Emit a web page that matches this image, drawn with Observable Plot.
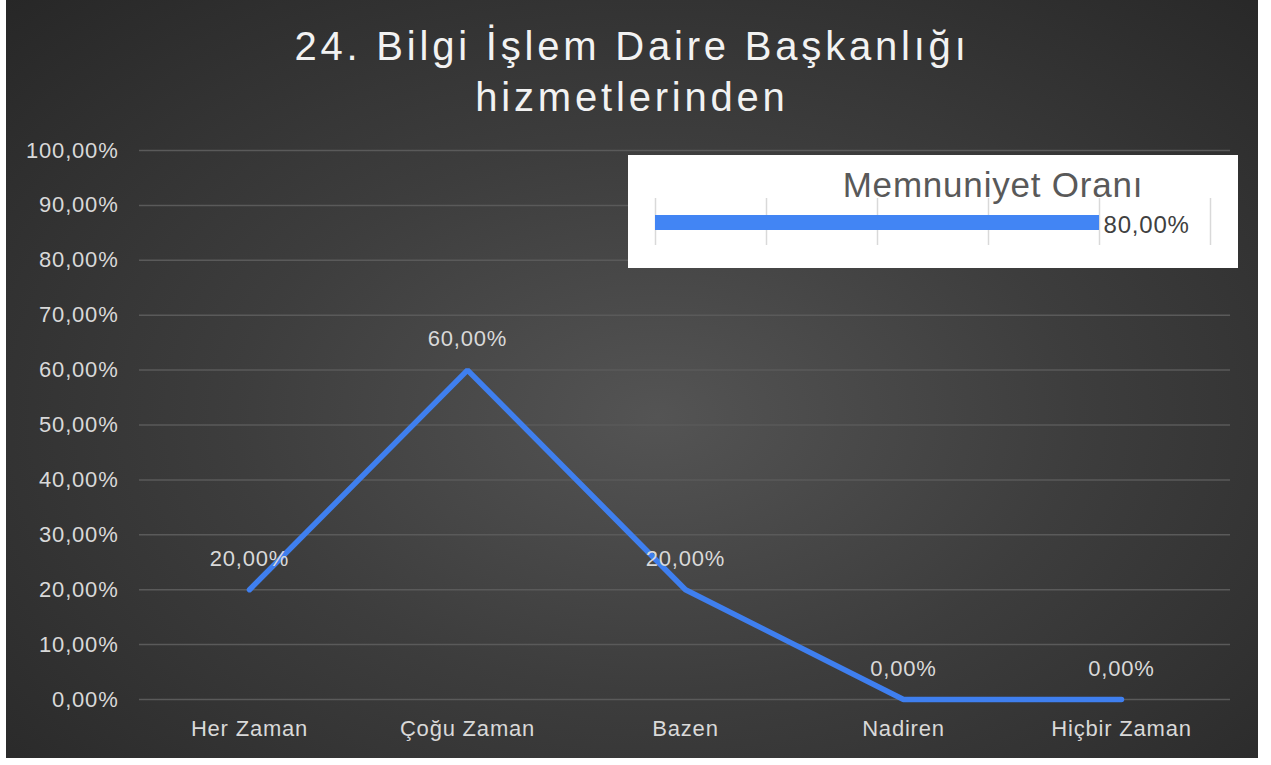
<!DOCTYPE html>
<html>
<head>
<meta charset="utf-8">
<script src="https://cdn.jsdelivr.net/npm/d3@7"></script>
<script src="https://cdn.jsdelivr.net/npm/@observablehq/plot@0.6"></script>
<style>
  html, body { margin: 0; padding: 0; background: #ffffff; }
  #wrap {
    position: absolute; left: 6px; top: 0; width: 1252px; height: 758px;
    background: radial-gradient(ellipse 75% 80% at 52% 55%, #545454 0%, #3d3d3d 45%, #262626 100%);
    font-family: "Liberation Sans", Arial, sans-serif;
    overflow: hidden;
  }
  #title {
    position: absolute; left: 0; width: 1252px; top: 21px; text-align: center;
    color: #f2f2f2; font-size: 40px; line-height: 51px; letter-spacing: 3.8px;
  }
  #main { position: absolute; left: 0; top: 0; line-height: 0; }
  #inset { position: absolute; left: 622px; top: 155px; line-height: 0; }
</style>
</head>
<body>
<div id="wrap">
  <div id="main"></div>
  <div id="title">24. Bilgi İşlem Daire Başkanlığı<br>hizmetlerinden</div>
  <div id="inset"></div>
</div>
<script>
const categories = ["Her Zaman", "Çoğu Zaman", "Bazen", "Nadiren", "Hiçbir Zaman"];
const values = [20, 60, 20, 0, 0];
const yTicks = [0, 10, 20, 30, 40, 50, 60, 70, 80, 90, 100];
const insetName = "Memnuniyet Oranı";
const insetValue = 80;
const insetTicks = [0, 20, 40, 60, 80, 100];

const fmt = d => d.toFixed(2).replace(".", ",") + "%";
const data = categories.map((c, i) => ({category: c, value: values[i]}));

const main = Plot.plot({
  width: 1252,
  height: 758,
  marginLeft: 133,
  marginRight: 28,
  marginTop: 150,
  marginBottom: 59,
  style: {background: "transparent", fontFamily: "'Liberation Sans', Arial, sans-serif", overflow: "visible", letterSpacing: "0.8px"},
  x: {type: "point", domain: categories, padding: 0.5},
  y: {domain: [0, 100]},
  marks: [
    Plot.ruleY(yTicks, {stroke: "#5a5a5a", strokeWidth: 1.5}),
    Plot.axisY(yTicks, {tickFormat: fmt, tickSize: 0, tickPadding: 21, fontSize: 22, fill: "#d9d9d9", label: null}),
    Plot.axisX({tickSize: 0, tickPadding: 21, fontSize: 22, fill: "#d9d9d9", label: null}),
    Plot.line(data, {x: "category", y: "value", stroke: "#3f7fef", strokeWidth: 5.5, strokeLinecap: "round", strokeLinejoin: "miter"}),
    Plot.text(data, {x: "category", y: "value", text: d => fmt(d.value), dy: -31, fontSize: 22, fill: "#d9d9d9"})
  ]
});
document.getElementById("main").appendChild(main);

const inset = Plot.plot({
  width: 610,
  height: 113,
  marginLeft: 27,
  marginRight: 28,
  marginTop: 43,
  marginBottom: 23,
  style: {background: "#ffffff", fontFamily: "'Liberation Sans', Arial, sans-serif", overflow: "visible", letterSpacing: "0.8px"},
  x: {domain: [0, 100], axis: null},
  y: {axis: null},
  marks: [
    Plot.ruleX(insetTicks, {stroke: "#d9d9d9", strokeWidth: 1.5}),
    Plot.barX([{name: insetName, value: insetValue}], {x1: 0, x2: "value", fill: "#4285f4", insetTop: 17, insetBottom: 15}),
    Plot.text([{name: insetName, value: insetValue}], {x: "value", frameAnchor: "middle", lineAnchor: "middle", text: d => fmt(d.value), dx: 4, dy: 3, textAnchor: "start", fontSize: 24, fill: "#404040"}),
    Plot.text([insetName], {frameAnchor: "top", lineAnchor: "middle", text: d => d, dx: 60, dy: -13, fontSize: 35, fill: "#595959"})
  ]
});
document.getElementById("inset").appendChild(inset);
</script>
</body>
</html>
